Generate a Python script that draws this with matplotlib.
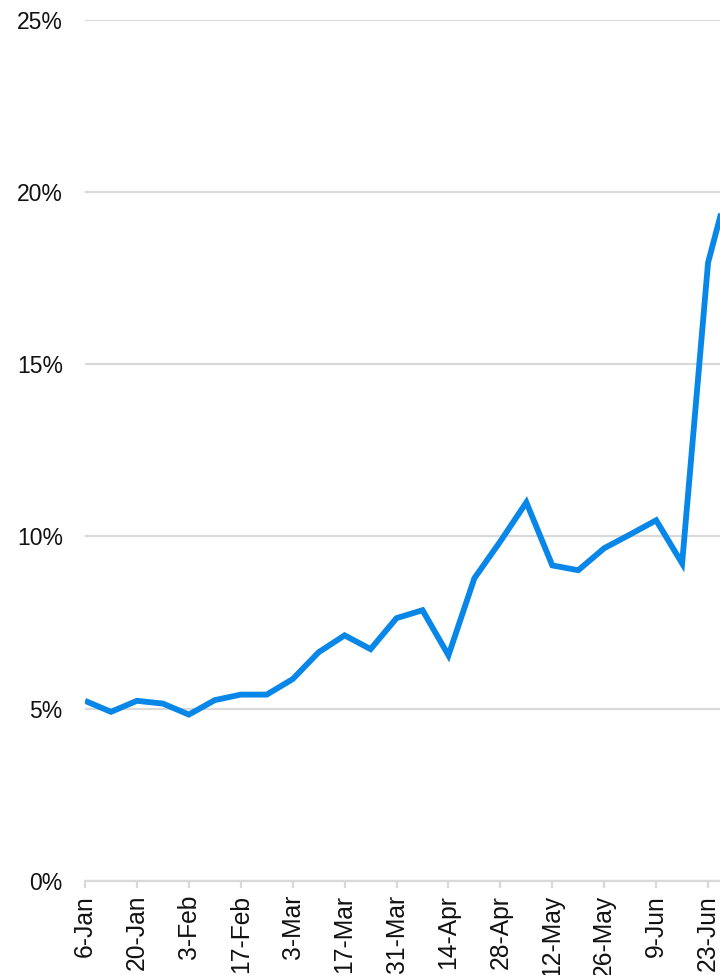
import matplotlib.pyplot as plt
from matplotlib.ticker import FuncFormatter

weeks = ['6-Jan', '13-Jan', '20-Jan', '27-Jan', '3-Feb', '10-Feb', '17-Feb',
         '24-Feb', '3-Mar', '10-Mar', '17-Mar', '24-Mar', '31-Mar', '7-Apr',
         '14-Apr', '21-Apr', '28-Apr', '5-May', '12-May', '19-May', '26-May',
         '2-Jun', '9-Jun', '16-Jun', '23-Jun', '30-Jun']
share = [5.23, 4.91, 5.23, 5.15, 4.83, 5.25, 5.41, 5.41, 5.86, 6.64, 7.13,
         6.73, 7.63, 7.86, 6.55, 8.79, 9.86, 10.99, 9.16, 9.02, 9.66, 10.06,
         10.47, 9.22, 17.95, 20.8]
y_ticks = [0, 5, 10, 15, 20, 25]

plt.rcParams['font.family'] = ['Liberation Sans', 'DejaVu Sans']

fig = plt.figure(figsize=(7.2, 9.75), dpi=100)
# axes runs past the right edge so the last week is cut off
ax = fig.add_axes([85 / 720, 94 / 975, 675 / 720, 861.3 / 975])

x = list(range(len(weeks)))
ax.plot(x, share, color='#0887e8', lw=4.2, solid_joinstyle='miter',
        solid_capstyle='butt', zorder=3)

ax.set_xlim(0, 26)
ax.set_ylim(0, 25)
ax.set_yticks(y_ticks)
ax.yaxis.set_major_formatter(FuncFormatter(lambda v, p: f'{v:.0f}%'))
ax.grid(axis='y', color='#d9d9d9', lw=1.6)
ax.set_axisbelow(True)

ax.set_xticks(x[::2])
ax.set_xticklabels(weeks[::2], rotation=90)

for side in ['top', 'right', 'left']:
    ax.spines[side].set_visible(False)
ax.spines['bottom'].set_color('#d9d9d9')
ax.spines['bottom'].set_linewidth(1.6)
ax.spines['bottom'].set_bounds(0, 26)

ax.tick_params(axis='y', length=0, pad=16, labelsize=16.5, labelcolor='#111111')
ax.tick_params(axis='x', length=5, width=1.6, color='#d9d9d9', pad=5,
               labelsize=17.7, labelcolor='#111111')

fig.savefig('out.png', dpi=100)
